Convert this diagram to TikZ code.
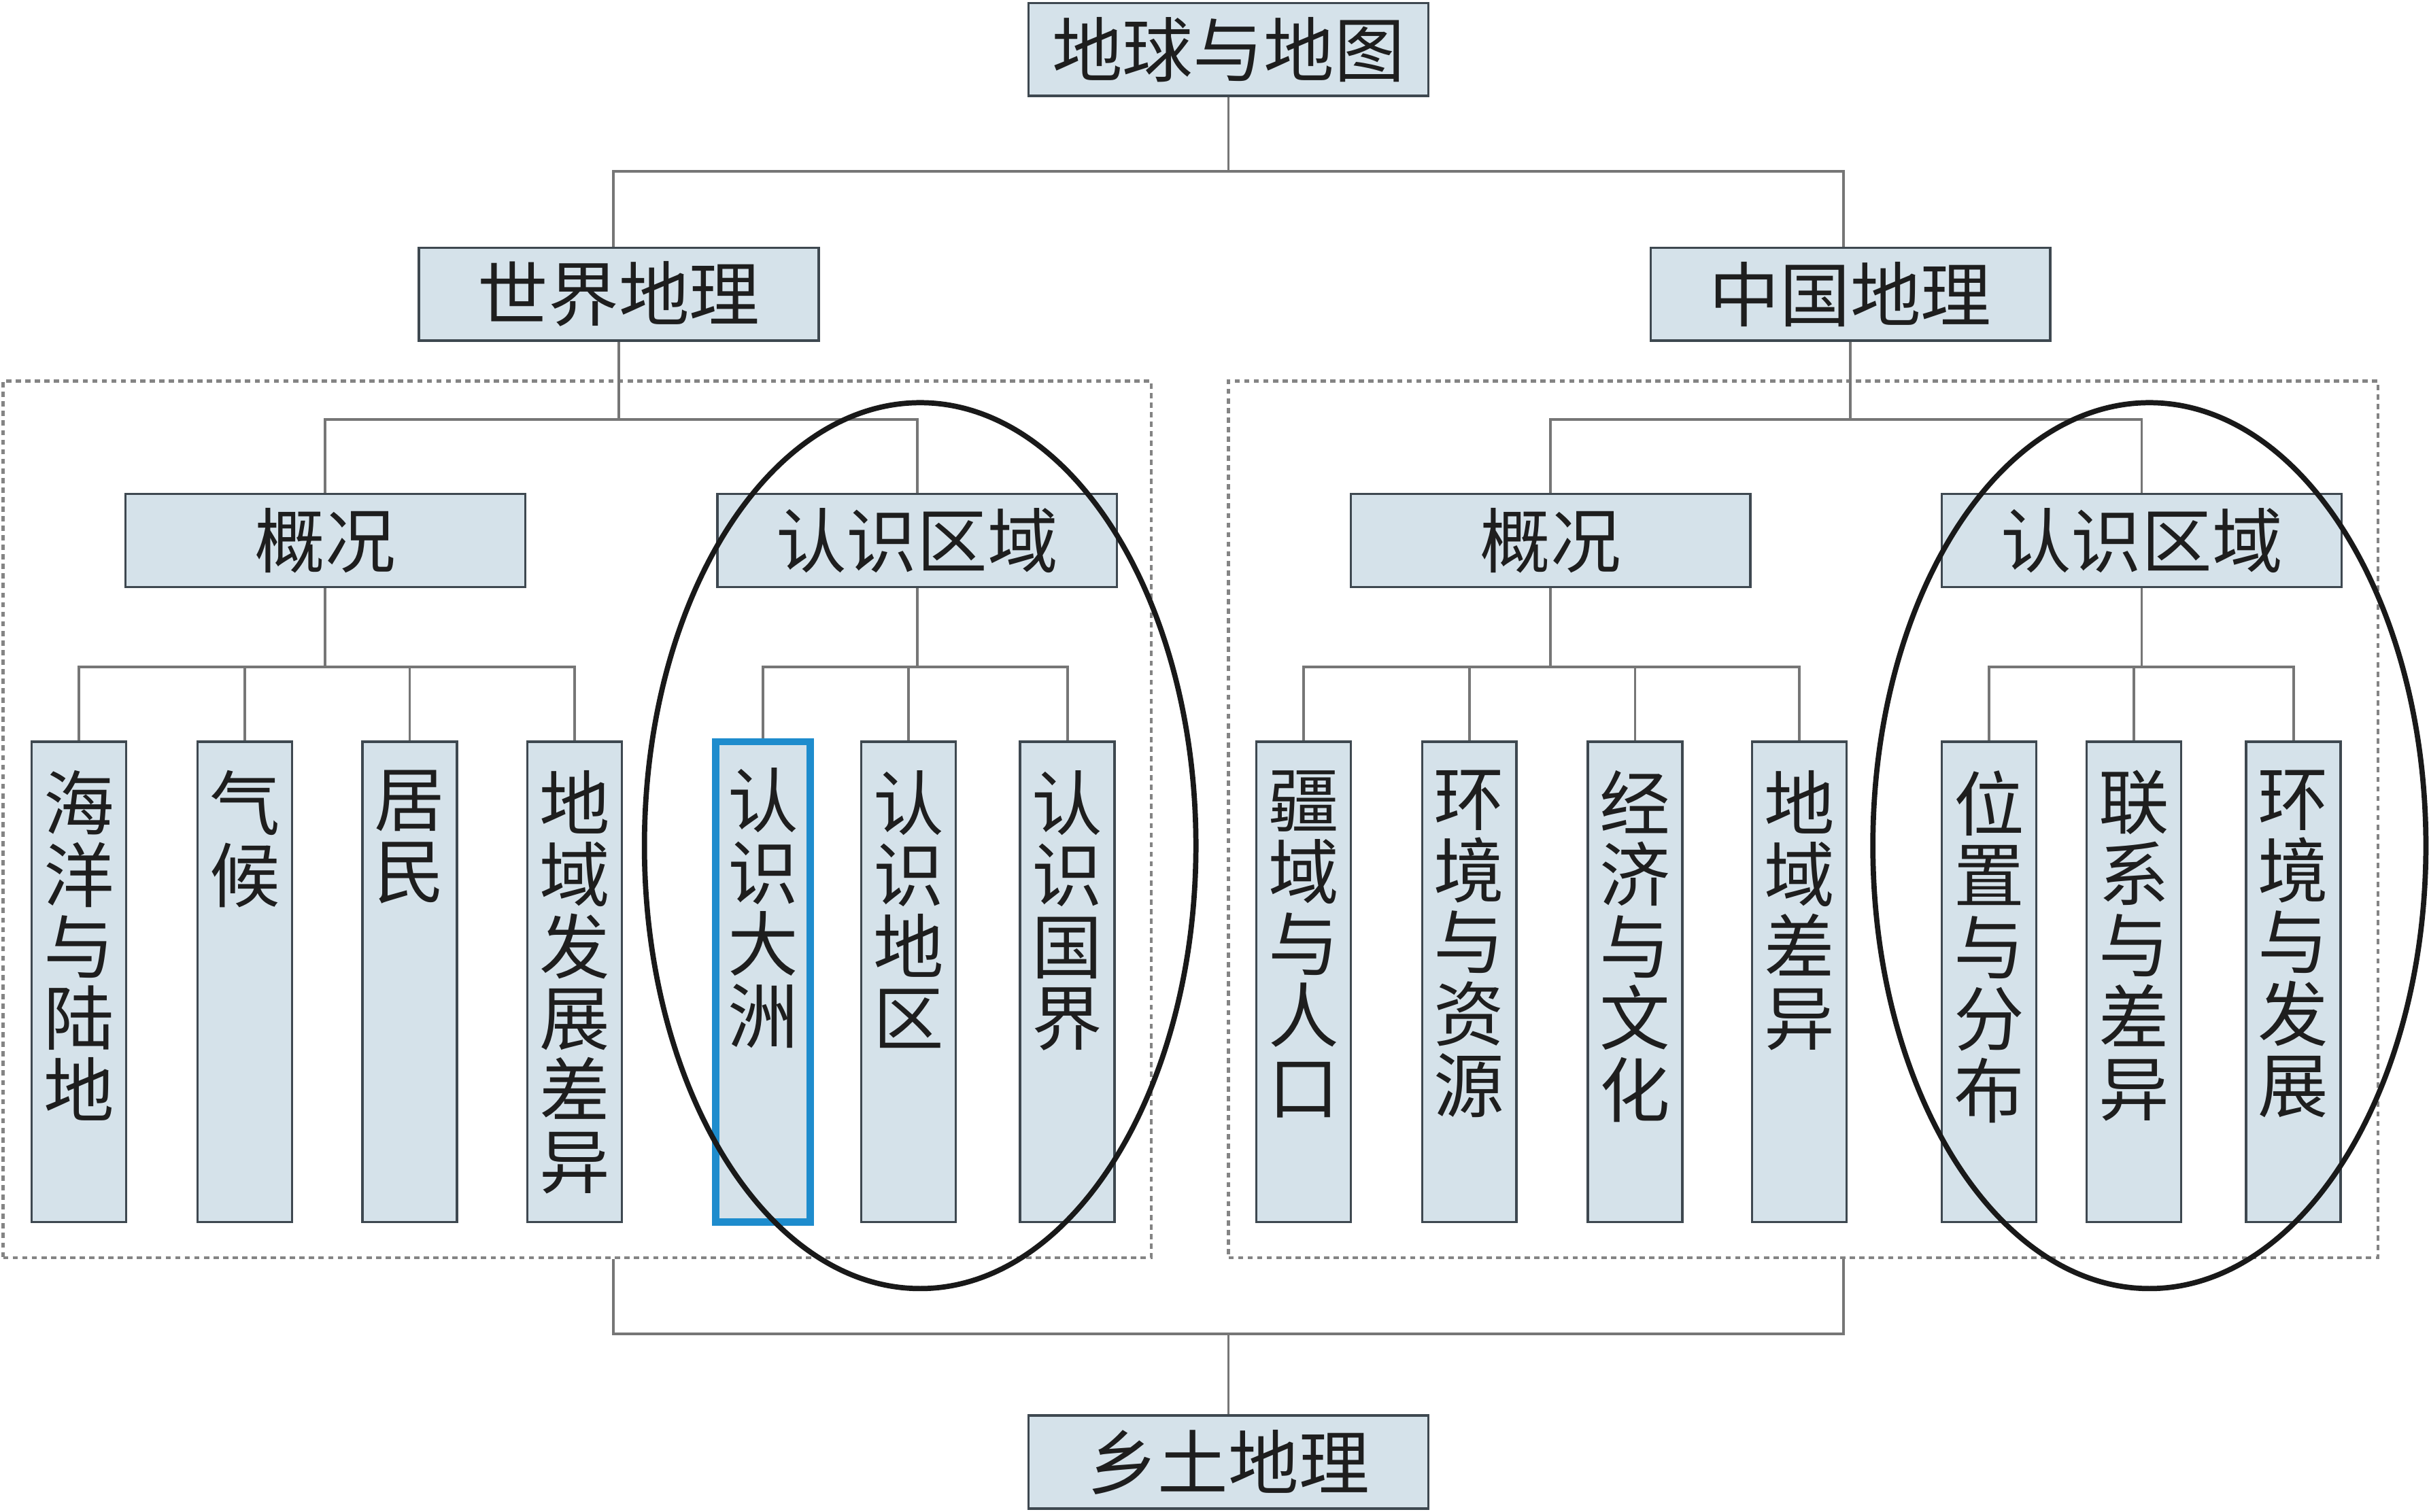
\documentclass[tikz,border=0pt]{standalone}
\usepackage{fontspec}
\newfontfamily\cjk{Noto Sans CJK SC}
\def\u{0.02278cm}
\definecolor{boxfill}{RGB}{213,226,234}
\definecolor{boxline}{RGB}{62,72,80}
\definecolor{conncol}{RGB}{118,118,118}
\definecolor{txt}{RGB}{30,30,30}
\definecolor{hiblue}{RGB}{30,140,205}
\tikzset{
  cjkfont/.style={font=\cjk\fontsize{29.5}{30}\selectfont, text=txt},
  box/.style={draw=boxline, fill=boxfill, line width=1pt, inner sep=0pt, cjkfont},
  hbox/.style={box, minimum width=258*\u, minimum height=60*\u},
  vbox/.style={box, minimum width=61*\u, minimum height=310*\u},
  vtext/.style={anchor=north, align=center, inner sep=0pt, cjkfont},
  conn/.style={draw=conncol, line width=1.1pt},
  frame/.style={draw=conncol!90, line width=1.2pt, dash pattern=on 2.2pt off 1.8pt, inner sep=0pt},
  ring/.style={draw=black!90, line width=2.2pt},
}
\begin{document}
\begin{tikzpicture}[x=0.02278cm,y=-0.02278cm]
\useasboundingbox (0,0) rectangle (1568,976);
% dashed frames
\node[frame, minimum width=741*\u, minimum height=566*\u] (lf) at (372.5,529) {};
\node[frame, minimum width=742*\u, minimum height=566*\u] (rf) at (1164,529) {};
% main boxes
\node[hbox] (top) at (793,32) {地球与地图};
\node[hbox] (world) at (399.5,190) {世界地理};
\node[hbox] (china) at (1194.5,190) {中国地理};
\node[hbox] (wgk) at (210,349) {概况};
\node[hbox] (wrs) at (592,349) {认识区域};
\node[hbox] (cgk) at (1001,349) {概况};
\node[hbox] (crs) at (1382.5,349) {认识区域};
\node[hbox] (home) at (793,944) {乡土地理};
% leaf boxes (world)
\node[vbox] (w1) at (51,634) {};
\node[vbox] (w2) at (158,634) {};
\node[vbox] (w3) at (264.5,634) {};
\node[vbox] (w4) at (371,634) {};
\node[vbox, draw=hiblue, line width=3pt] (w5) at (492.5,634) {};
\node[vbox] (w6) at (586.5,634) {};
\node[vbox] (w7) at (689,634) {};
% leaf boxes (china)
\node[vbox] (c1) at (841.5,634) {};
\node[vbox] (c2) at (948.5,634) {};
\node[vbox] (c3) at (1055.5,634) {};
\node[vbox] (c4) at (1161.5,634) {};
\node[vbox] (c5) at (1284,634) {};
\node[vbox] (c6) at (1377.5,634) {};
\node[vbox] (c7) at (1480.5,634) {};
% vertical texts
\node[vtext] (tw1) at ([yshift=-19*\u]w1.north) {海\\洋\\与\\陆\\地};
\node[vtext] (tw2) at ([yshift=-19*\u]w2.north) {气\\候};
\node[vtext] (tw3) at ([yshift=-19*\u]w3.north) {居\\民};
\node[vtext] (tw4) at ([yshift=-19*\u]w4.north) {地\\域\\发\\展\\差\\异};
\node[vtext] (tw5) at ([yshift=-19*\u]w5.north) {认\\识\\大\\洲};
\node[vtext] (tw6) at ([yshift=-19*\u]w6.north) {认\\识\\地\\区};
\node[vtext] (tw7) at ([yshift=-19*\u]w7.north) {认\\识\\国\\界};
\node[vtext] (tc1) at ([yshift=-19*\u]c1.north) {疆\\域\\与\\人\\口};
\node[vtext] (tc2) at ([yshift=-19*\u]c2.north) {环\\境\\与\\资\\源};
\node[vtext] (tc3) at ([yshift=-19*\u]c3.north) {经\\济\\与\\文\\化};
\node[vtext] (tc4) at ([yshift=-19*\u]c4.north) {地\\域\\差\\异};
\node[vtext] (tc5) at ([yshift=-19*\u]c5.north) {位\\置\\与\\分\\布};
\node[vtext] (tc6) at ([yshift=-19*\u]c6.north) {联\\系\\与\\差\\异};
\node[vtext] (tc7) at ([yshift=-19*\u]c7.north) {环\\境\\与\\发\\展};
% connectors
\draw[conn] (top.south) -- ++(0,48) coordinate (j0);
\draw[conn] (j0) -| ([xshift=-3.5*\u]world.north);
\draw[conn] (j0) -| ([xshift=-4.5*\u]china.north);
\draw[conn] (world.south) -- ++(0,50) coordinate (jw);
\draw[conn] (jw) -| (wgk.north);
\draw[conn] (jw) -| (wrs.north);
\draw[conn] (china.south) -- ++(0,50) coordinate (jc);
\draw[conn] (jc) -| (cgk.north);
\draw[conn] (jc) -| (crs.north);
\draw[conn] (wgk.south) -- ++(0,51) coordinate (jwg);
\foreach \b in {w1,w2,w3,w4} \draw[conn] (jwg) -| (\b.north);
\draw[conn] (wrs.south) -- ++(0,51) coordinate (jwr);
\foreach \b in {w5,w6,w7} \draw[conn] (jwr) -| (\b.north);
\draw[conn] (cgk.south) -- ++(0,51) coordinate (jcg);
\foreach \b in {c1,c2,c3,c4} \draw[conn] (jcg) -| (\b.north);
\draw[conn] (crs.south) -- ++(0,51) coordinate (jcr);
\foreach \b in {c5,c6,c7} \draw[conn] (jcr) -| (\b.north);
\draw[conn] (home.north) -- ++(0,-52) coordinate (jh);
\draw[conn] (jh) -| ([xshift=-3.5*\u]lf.south -| world.south);
\draw[conn] (jh) -| ([xshift=-4.5*\u]rf.south -| china.south);
% ellipses
\draw[ring] (594,546) ellipse [x radius=178, y radius=286];
\draw[ring] (1387.5,546) ellipse [x radius=178.5, y radius=286];
\end{tikzpicture}
\end{document}
